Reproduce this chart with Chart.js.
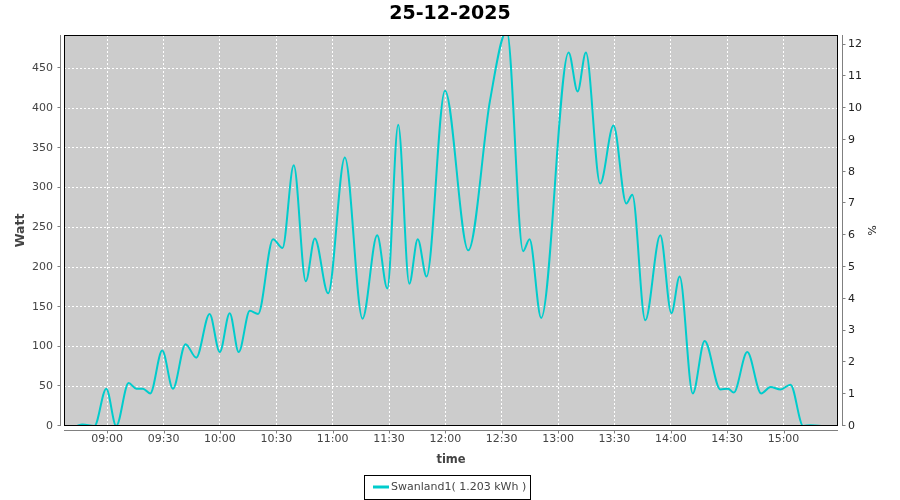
<!DOCTYPE html>
<html>
<head>
<meta charset="utf-8">
<script src="https://cdn.jsdelivr.net/npm/chart.js@4"></script>
<style>
  html, body { margin: 0; padding: 0; background: #fff; }
</style>
</head>
<body>
<canvas id="chart" width="900" height="500"></canvas>
<script>
const chartTitle = '25-12-2025';
const seriesName = 'Swanland1( 1.203 kWh )';

// sample times in minutes after midnight, power in watt
const sampleMinutes = [523.5, 526.8, 533.2, 539.5, 544.8, 551.4, 555.5, 559, 562.9, 569.3,
  575, 581.7, 587.4, 594.5, 599.9, 605.2, 610, 615.9, 620.3, 628.3,
  633.3, 639.3, 645.7, 650.5, 657.6, 666.5, 675.9, 683.7, 689.1, 694.9,
  700.8, 705.3, 710, 719.8, 732.2, 743.8, 752.7, 761.4, 764.8, 771,
  785.6, 790.4, 794.8, 802.4, 809.5, 816.3, 819.5, 826.4, 834.4, 840.3,
  844.7, 851.7, 858, 866.4, 870.5, 873.5, 880.7, 888.1, 893.1, 898.4,
  903.7, 910.5, 914.4, 920.9];
const wattValues = [0, 2, 0, 47, 0, 54, 47, 47, 41, 95,
  47, 103, 86, 141, 93, 142, 93, 145, 141, 235,
  224, 328, 182, 236, 167, 338, 135, 240, 173, 379,
  179, 235, 188, 422, 221, 410, 497, 220, 235, 136,
  470, 421, 470, 305, 378, 280, 291, 133, 240, 142,
  188, 41, 107, 46, 47, 42, 93, 41, 49, 46,
  52, 0, 1, 0];

const xTickLabels = ['09:00', '09:30', '10:00', '10:30', '11:00', '11:30', '12:00',
  '12:30', '13:00', '13:30', '14:00', '14:30', '15:00'];
const xMin = 517, xMax = 929;
const wattMax = 492;
const percentMax = 12.3;

function toMinutes(label) {
  const [h, m] = label.split(':').map(Number);
  return h * 60 + m;
}

Chart.defaults.font.family = '"DejaVu Sans", sans-serif';
Chart.defaults.color = '#444444';

// grey plot background, black frame, offset axis lines and legend box
const plotFrame = {
  id: 'plotFrame',
  beforeDraw(chart) {
    const { ctx, chartArea: a } = chart;
    ctx.save();
    ctx.fillStyle = '#cccccc';
    ctx.fillRect(a.left, a.top, a.right - a.left, a.bottom - a.top);
    ctx.restore();
  },
  afterDraw(chart) {
    const { ctx, chartArea: a, scales } = chart;
    ctx.save();
    ctx.lineWidth = 1;
    ctx.strokeStyle = '#000000';
    ctx.strokeRect(a.left + 0.5, a.top + 0.5, a.right - a.left - 1, a.bottom - a.top - 1);

    ctx.strokeStyle = '#808080';
    ctx.beginPath();
    const lx = a.left - 3.5;
    ctx.moveTo(lx, a.top); ctx.lineTo(lx, a.bottom);
    scales.y.ticks.forEach(t => {
      const py = Math.round(scales.y.getPixelForValue(t.value)) - 0.5;
      ctx.moveTo(lx - 3, py); ctx.lineTo(lx, py);
    });
    const rx = a.right + 4.5;
    ctx.moveTo(rx, a.top); ctx.lineTo(rx, a.bottom);
    scales.y2.ticks.forEach(t => {
      const py = Math.round(scales.y2.getPixelForValue(t.value)) - 0.5;
      ctx.moveTo(rx, py); ctx.lineTo(rx + 3, py);
    });
    const by = a.bottom + 4.5;
    ctx.moveTo(a.left, by); ctx.lineTo(a.right, by);
    scales.x.ticks.forEach(t => {
      const px = Math.round(scales.x.getPixelForValue(t.value)) + 0.5;
      ctx.moveTo(px, by); ctx.lineTo(px, by + 3);
    });
    ctx.stroke();

    // legend
    const ds = chart.data.datasets[0];
    ctx.font = '11px "DejaVu Sans", sans-serif';
    const tw = ctx.measureText(ds.label).width;
    const boxW = Math.round(26 + tw + 5);
    const left = Math.round(447 - boxW / 2) + 0.5;
    const top = 475.5, boxH = 24, midY = 487;
    ctx.strokeStyle = '#000000';
    ctx.strokeRect(left, top, boxW, boxH);
    ctx.strokeStyle = ds.borderColor;
    ctx.lineWidth = 3;
    ctx.beginPath();
    ctx.moveTo(left + 8.5, midY); ctx.lineTo(left + 24.5, midY);
    ctx.stroke();
    ctx.fillStyle = '#444444';
    ctx.textBaseline = 'middle';
    ctx.fillText(ds.label, left + 26.5, midY);
    ctx.restore();
  }
};

new Chart(document.getElementById('chart'), {
  type: 'line',
  data: {
    datasets: [{
      label: seriesName,
      data: sampleMinutes.map((m, i) => ({ x: m, y: wattValues[i] })),
      yAxisID: 'y',
      borderColor: 'rgb(0, 204, 204)',
      borderWidth: 2,
      pointRadius: 0,
      cubicInterpolationMode: 'monotone',
      fill: false
    }]
  },
  options: {
    responsive: false,
    animation: false,
    layout: { padding: { left: 0, right: 0, top: 0, bottom: 26 } },
    plugins: {
      legend: { display: false },
      tooltip: { enabled: false },
      title: {
        display: true,
        text: chartTitle,
        color: '#000000',
        font: { size: 19, weight: 'bold' },
        padding: { top: 3, bottom: 9.2 }
      }
    },
    scales: {
      x: {
        type: 'linear',
        min: xMin,
        max: xMax,
        afterBuildTicks: s => { s.ticks = xTickLabels.map(l => ({ value: toMinutes(l) })); },
        afterFit: s => { s.height = 48; },
        ticks: {
          font: { size: 11 },
          color: '#444444',
          padding: 7,
          maxRotation: 0,
          callback: v => xTickLabels.find(l => toMinutes(l) === v)
        },
        grid: { color: '#ffffff', drawTicks: false },
        border: { display: false, dash: [2, 2] },
        title: {
          display: true,
          text: 'time',
          color: '#444444',
          font: { size: 11.5, weight: 'bold' },
          padding: { top: 0, bottom: 7 }
        }
      },
      y: {
        position: 'left',
        min: 0,
        max: wattMax,
        afterFit: s => { s.width = 64; },
        ticks: { stepSize: 50, includeBounds: false, font: { size: 11 }, color: '#444444', padding: 11 },
        grid: { color: '#ffffff', drawTicks: false },
        border: { display: false, dash: [2, 2] },
        title: {
          display: true,
          text: 'Watt',
          color: '#444444',
          font: { size: 12.5, weight: 'bold' },
          padding: { top: 13.5, bottom: 0 }
        }
      },
      y2: {
        position: 'right',
        display: true,
        min: 0,
        max: percentMax,
        afterFit: s => { s.width = 62; },
        ticks: { stepSize: 1, includeBounds: false, font: { size: 11 }, color: '#222222', padding: 10 },
        grid: { drawOnChartArea: false, drawTicks: false },
        border: { display: false },
        title: {
          display: true,
          text: '%',
          color: '#222222',
          font: { size: 11 },
          padding: { top: 23, bottom: 0 }
        }
      }
    }
  },
  plugins: [plotFrame]
});
</script>
</body>
</html>
